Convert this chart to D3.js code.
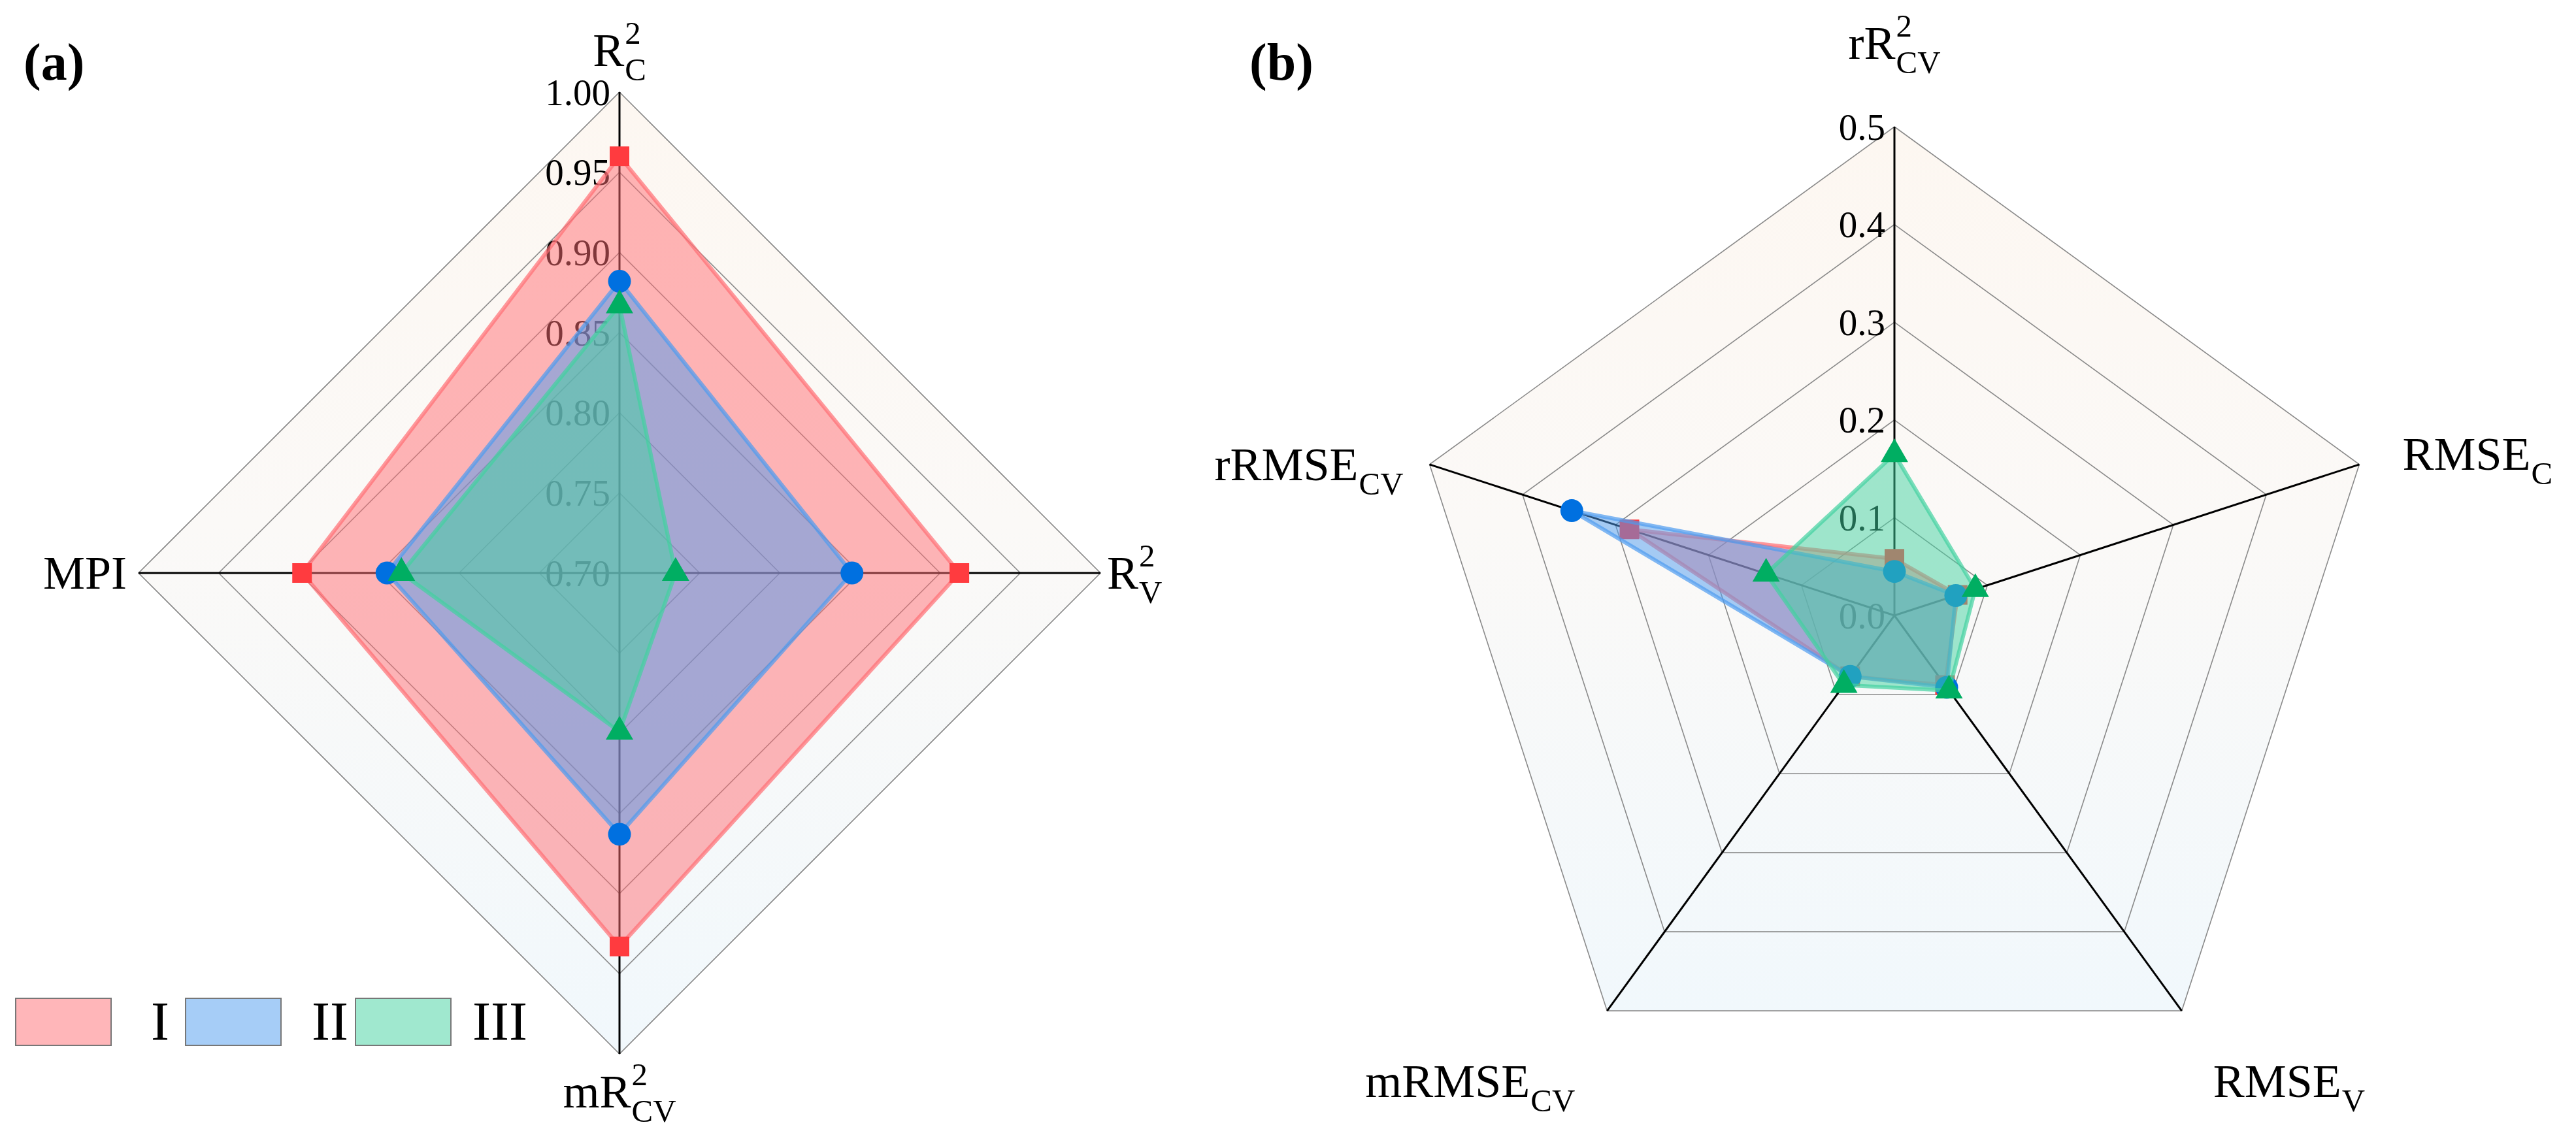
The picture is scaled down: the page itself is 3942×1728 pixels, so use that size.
<!DOCTYPE html>
<html><head><meta charset="utf-8">
<script src="https://cdn.jsdelivr.net/npm/d3@7"></script>
<style>body{margin:0;background:#fff}svg{display:block}text{font-family:"Liberation Serif","Times New Roman",serif;fill:#000}</style>
</head><body><svg id="c" width="3942" height="1728"></svg>
<script>
// ---------- data: panel (a) ----------
const axesA = [
  {base:"R", sup:"2", sub:"C"},
  {base:"R", sup:"2", sub:"V"},
  {base:"mR", sup:"2", sub:"CV"},
  {base:"MPI"}
];
const ticksA = [0.70, 0.75, 0.80, 0.85, 0.90, 0.95, 1.00];
const tickLabelsA = ["0.70","0.75","0.80","0.85","0.90","0.95","1.00"];
const seriesNames = ["I","II","III"];
const aI   = [0.960, 0.912, 0.933, 0.898];
const aII  = [0.882, 0.845, 0.863, 0.845];
const aIII = [0.867, 0.735, 0.799, 0.836];
// ---------- data: panel (b) ----------
const axesB = [
  {base:"rR", sup:"2", sub:"CV"},
  {base:"RMSE", sub:"C"},
  {base:"RMSE", sub:"V"},
  {base:"mRMSE", sub:"CV"},
  {base:"rRMSE", sub:"CV"}
];
const ticksB = [0.0, 0.1, 0.2, 0.3, 0.4, 0.5];
const tickLabelsB = ["0.0","0.1","0.2","0.3","0.4","0.5"];
const bI   = [0.058, 0.068, 0.088, 0.077, 0.285];
const bII  = [0.045, 0.066, 0.091, 0.077, 0.347];
const bIII = [0.165, 0.087, 0.095, 0.088, 0.138];

// ---------- styles ----------
const fillCols   = ["rgb(255,109,115)","rgb(77,155,239)","rgb(65,209,159)"];
const markerCols = ["#FF3B3F","#0070E0","#00AE62"];
const markerShapes = [d3.symbolSquare, d3.symbolCircle, d3.symbolTriangle];
const markerSizes  = [900, 960, 760];

const svg = d3.select("#c");
const defs = svg.append("defs");
const grad = defs.append("linearGradient").attr("id","bgGrad")
  .attr("x1",0).attr("y1",0).attr("x2",0).attr("y2",1);
grad.append("stop").attr("offset","0%").attr("stop-color","#FDF7F1");
grad.append("stop").attr("offset","45%").attr("stop-color","#FBF9F7");
grad.append("stop").attr("offset","100%").attr("stop-color","#F1F8FC");

// one text element: base + stacked superscript / subscript
function richLabel(g, p, fs, x, y, anchor) {
  const grp = g.append("g");
  const t = grp.append("text").attr("font-size", fs);
  t.append("tspan").text(p.base);
  const w = t.node().getComputedTextLength();
  const ss = fs * 0.68;
  if (p.sup) t.append("tspan").attr("x", w + 1).attr("y", -0.47 * fs).attr("font-size", ss).text(p.sup);
  if (p.sub) t.append("tspan").attr("x", w + 1).attr("y", 0.31 * fs).attr("font-size", ss).text(p.sub);
  const total = t.node().getBBox().width;
  const dx = anchor === "middle" ? -total / 2 : anchor === "end" ? -total : 0;
  grp.attr("transform", `translate(${x + dx},${y})`);
}

function radar(cfg) {
  const g = svg.append("g").attr("transform", `translate(${cfg.cx},${cfg.cy})`);
  const n = cfg.axes.length;
  const r = d3.scaleLinear().domain(cfg.domain).range([0, cfg.R]);
  const ang = i => i * 2 * Math.PI / n;
  const ringLine = d3.lineRadial().curve(d3.curveLinearClosed);
  const outerPts = d3.range(n).map(i => [ang(i), cfg.R]);
  // background
  g.append("path").attr("d", ringLine(outerPts)).attr("fill", "url(#bgGrad)");
  // rings
  cfg.ticks.forEach(t => {
    if (r(t) <= 0) return;
    g.append("path").attr("d", ringLine(d3.range(n).map(i => [ang(i), r(t)])))
      .attr("fill", "none").attr("stroke", "#8a8a8a").attr("stroke-width", 1.6);
  });
  // spokes
  d3.range(n).forEach(i => {
    const p = d3.pointRadial(ang(i), cfg.R);
    g.append("line").attr("x1", 0).attr("y1", 0).attr("x2", p[0]).attr("y2", p[1])
      .attr("stroke", "#000").attr("stroke-width", 3);
  });
  // tick labels along first axis
  cfg.ticks.forEach((t, k) => {
    g.append("text").attr("x", -14).attr("y", -r(t))
      .attr("text-anchor", "end").attr("dominant-baseline", "central")
      .attr("font-size", 57).text(cfg.tickLabels[k]);
  });
  // series
  cfg.series.forEach((vals, s) => {
    const pts = vals.map((v, i) => [ang(i), r(v)]);
    g.append("path").attr("d", ringLine(pts))
      .attr("fill", fillCols[s]).attr("fill-opacity", 0.5)
      .attr("stroke", fillCols[s]).attr("stroke-opacity", 0.7).attr("stroke-width", 6)
      .attr("stroke-linejoin", "round");
    vals.forEach((v, i) => {
      const p = d3.pointRadial(ang(i), r(v));
      g.append("path").attr("d", d3.symbol().type(markerShapes[s]).size(markerSizes[s])())
        .attr("transform", `translate(${p[0]},${p[1]})`)
        .attr("fill", markerCols[s]);
    });
  });
  // axis labels
  cfg.axes.forEach((a, i) => {
    const p = d3.pointRadial(ang(i), cfg.R);
    const o = cfg.labelPos[i];
    richLabel(g, a, 72, p[0] + o[0], p[1] + o[1], o[2]);
  });
  // panel tag
  svg.append("text").attr("x", cfg.tag[0]).attr("y", cfg.tag[1])
    .attr("font-size", 80).attr("font-weight", "bold").text(cfg.tagText);
}

radar({
  cx: 948, cy: 877, R: 736, domain: [0.70, 1.00],
  axes: axesA, ticks: ticksA, tickLabels: tickLabelsA,
  series: [aI, aII, aIII],
  labelPos: [[0, -40, "middle"], [10, 24, "start"], [0, 82, "middle"], [-18, 24, "end"]],
  tag: [36, 122], tagText: "(a)"
});
radar({
  cx: 2899, cy: 942, R: 748, domain: [0, 0.5],
  axes: axesB, ticks: ticksB, tickLabels: tickLabelsB,
  series: [bI, bII, bIII],
  labelPos: [[0, -104, "middle"], [66, 8, "start"], [48, 132, "start"], [-49, 132, "end"], [-40, 24, "end"]],
  tag: [1912, 122], tagText: "(b)"
});

// legend
const leg = svg.append("g");
seriesNames.forEach((nm, i) => {
  const x0 = 24 + i * 260;
  leg.append("rect").attr("x", x0).attr("y", 1528).attr("width", 146).attr("height", 72)
    .attr("fill", fillCols[i]).attr("fill-opacity", 0.5)
    .attr("stroke", "#777").attr("stroke-width", 2);
  leg.append("text").attr("x", x0 + 221).attr("y", 1592).attr("text-anchor", "middle")
    .attr("font-size", 84).text(nm);
});
</script></body></html>
